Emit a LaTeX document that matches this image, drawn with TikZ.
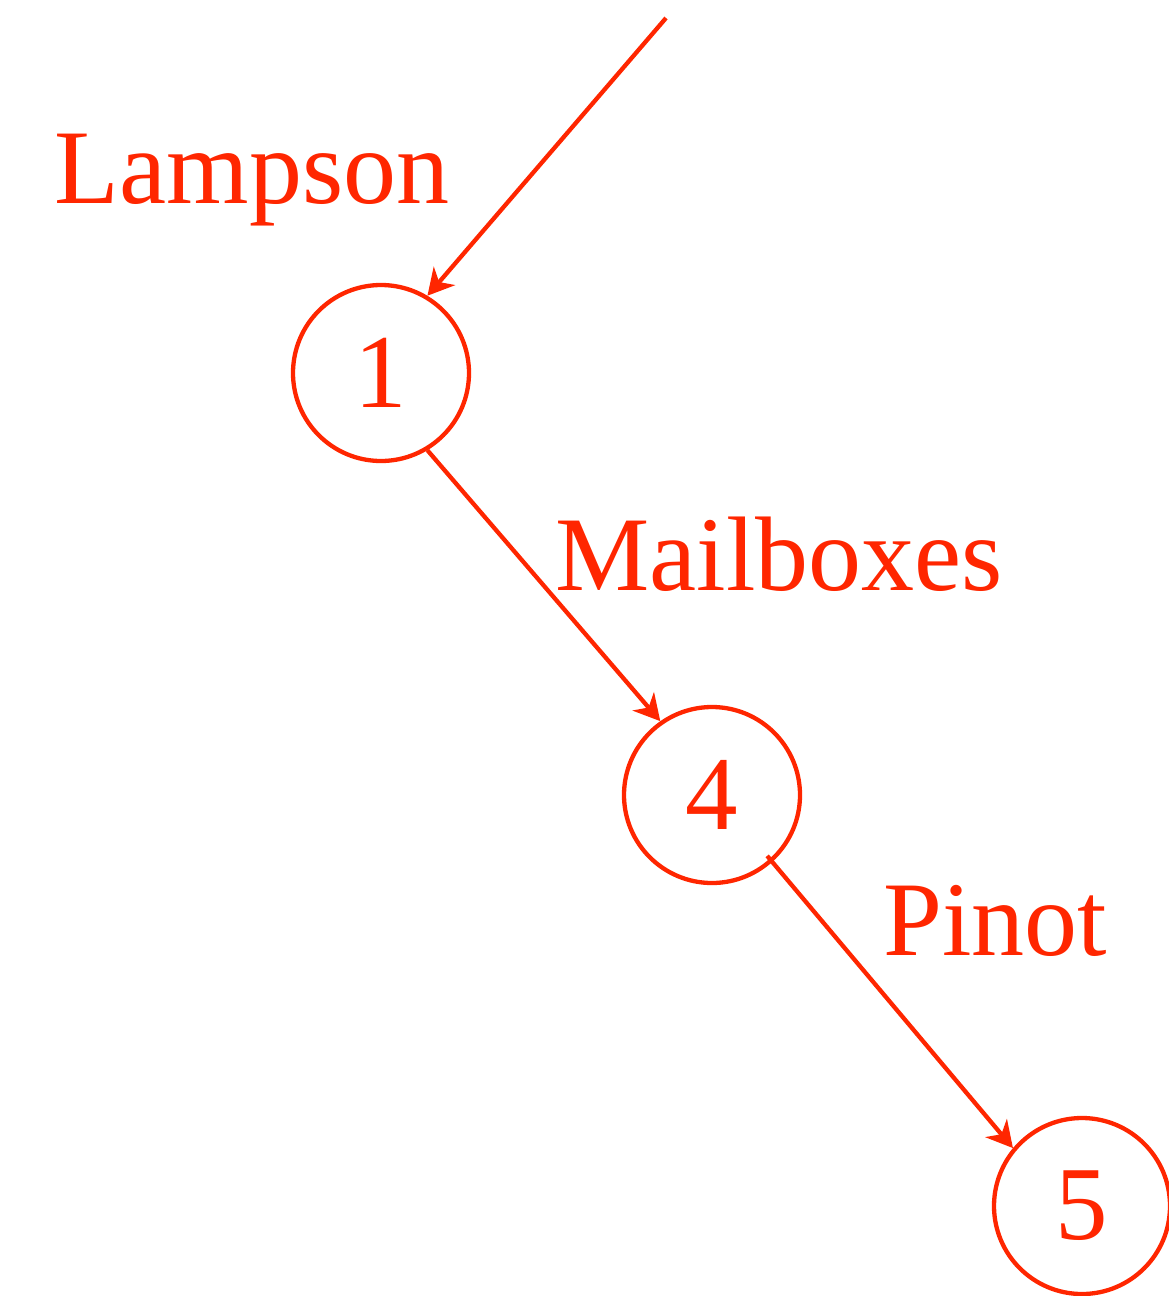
\documentclass[tikz,border=0pt]{standalone}
\usepackage{fontspec}
\setmainfont{Liberation Serif}
\usetikzlibrary{arrows.meta}
\definecolor{refred}{RGB}{255,38,0}
\begin{document}
\begin{tikzpicture}[x=1pt,y=1pt,
  state/.style={circle,draw=refred,line width=4.3pt,minimum size=176pt,inner sep=0pt,text=refred,font=\fontsize{105}{105}\selectfont},
  lbl/.style={text=refred,font=\fontsize{106}{106}\selectfont,anchor=base,inner sep=0pt},
  edge/.style={draw=refred,line width=4.3pt,-{Stealth[length=26pt,width=28pt,inset=8pt]}}]
\useasboundingbox (0,0) rectangle (1169,-1296);
\node[state] (n1) at (381,-373) {1};
\node[state] (n4) at (712,-795) {4};
\node[state] (n5) at (1082,-1206) {5};
\coordinate (top) at (666,-18);
\node[lbl] (l1) at (252,-203) {Lampson};
\node[lbl] (l2) at (779,-590) {Mailboxes};
\node[lbl] (l3) at (995,-955) {Pinot};
\draw[edge] (top) -- (n1.59);
\draw[edge] (n1.-59) -- (n4.125);
\draw[edge,shorten <=-8pt] (n4.-48) -- (n5.140);
\end{tikzpicture}
\end{document}
